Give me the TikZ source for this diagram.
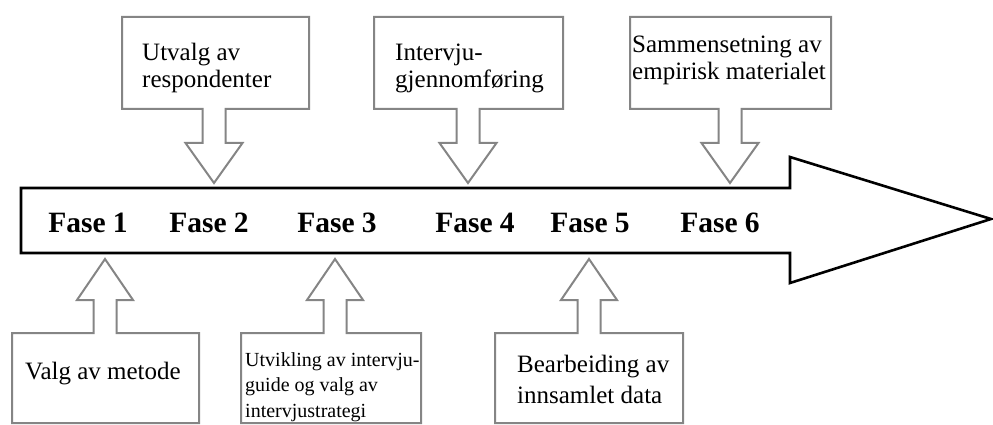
\documentclass[tikz,border=0pt]{standalone}
\usepackage{fontspec}
\setmainfont{Liberation Serif}
\definecolor{boxgray}{HTML}{858585}
\tikzset{
  callout/.style={draw=boxgray, line width=2pt, fill=white, line join=miter},
  mainarrow/.style={draw=black, line width=2.6pt, fill=white, line join=miter},
  fase/.style={font=\fontsize{29.5}{30}\selectfont\bfseries, inner sep=0pt, anchor=base},
  btext/.style={font=\fontsize{25}{27}\selectfont, align=left, inner sep=0pt, anchor=base west},
  stext/.style={font=\fontsize{20}{25.5}\selectfont, align=left, inner sep=0pt, anchor=base west},
}
\begin{document}
\begin{tikzpicture}[x=1pt,y=-1pt]
\useasboundingbox (0,0) rectangle (993,425);
% main arrow
\draw[mainarrow] (21,188) -- (790,188) -- (790,157) -- (991,219) -- (790,283) -- (790,253) -- (21,253) -- cycle;
% top callouts: L R c
\foreach \L/\R/\c in {122/309/214, 374/563/468, 630/831/730}{
  \draw[callout] (\L,17) -- (\R,17) -- (\R,109) -- (\c+11.5,109) -- (\c+11.5,143) -- (\c+28.5,143)
     -- (\c,183) -- (\c-28.5,143) -- (\c-11.5,143) -- (\c-11.5,109) -- (\L,109) -- cycle;
}
% bottom callouts
\foreach \L/\R/\c in {12/199/105, 241/421/335, 495/683/589}{
  \draw[callout] (\L,423) -- (\R,423) -- (\R,333) -- (\c+11.5,333) -- (\c+11.5,300) -- (\c+28,300)
     -- (\c,259) -- (\c-28,300) -- (\c-11.5,300) -- (\c-11.5,333) -- (\L,333) -- cycle;
}
% Fase labels
\node[fase] (f1) at (88,232) {Fase 1};
\node[fase] (f2) at (209,232) {Fase 2};
\node[fase] (f3) at (337,232) {Fase 3};
\node[fase] (f4) at (475,232) {Fase 4};
\node[fase] (f5) at (590,232) {Fase 5};
\node[fase] (f6) at (720,232) {Fase 6};
% texts (anchor = baseline of last line)
\node[btext] (tA) at (142,88) {Utvalg av\\respondenter};
\node[btext] (tB) at (395,88) {Intervju-\\gjennomføring};
\node[btext] (tC) at (632,80) {Sammensetning av\\empirisk materialet};
\node[btext] (tD) at (25,379) {Valg av metode};
\node[stext] (tE) at (245,417) {Utvikling av intervju-\\guide og valg av\\intervjustrategi};
\node[btext, font=\fontsize{25}{31}\selectfont] (tF) at (517,403) {Bearbeiding av\\innsamlet data};
\end{tikzpicture}
\end{document}
